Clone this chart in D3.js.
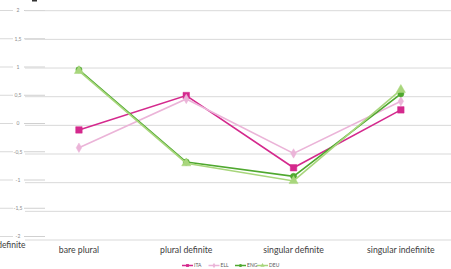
<!DOCTYPE html>
<html><head><meta charset="utf-8">
<script src="https://cdn.jsdelivr.net/npm/d3@7"></script>
<style>html,body{margin:0;padding:0;background:#fff;}svg{display:block;}</style>
</head><body>
<svg id="c" width="451" height="269"></svg>
<script>
const categories = ["bare plural", "plural definite", "singular definite", "singular indefinite"];
const tickValues = [2, 1.5, 1, 0.5, 0, -0.5, -1, -1.5, -2];
const tickLabels = ["2", "1,5", "1", "0,5", "0", "-0,5", "-1", "-1,5", "-2"];
const seriesNames = ["ITA", "ELL", "ENG", "DEU"];
const ITA = [-0.08, 0.52, -0.74, 0.27];
const ELL = [-0.39, 0.46, -0.49, 0.42];
const ENG = [0.97, -0.64, -0.89, 0.55];
const DEU = [0.95, -0.66, -0.97, 0.62];
const colors = ["#D4298D", "#EBB4D8", "#4FA82F", "#A8D67C"];
const shapes = [d3.symbolSquare, d3.symbolDiamond, d3.symbolCircle, d3.symbolTriangle];
const sizes = [42, 26, 30, 36];

const svg = d3.select("#c");
const font = "Lato, 'Open Sans', sans-serif";
const x = d3.scaleBand().domain(categories).range([25.3, 454.5]);
const cx = c => x(c) + x.bandwidth() / 2;
const y = d3.scaleLinear().domain([-2, 2]).range([240, 10.7]);
const yLeft = d3.scaleLinear().domain([-2, 2]).range([236.5, 10.5]);

// left background layer (clipped chart)
const left = svg.append("g");
left.selectAll("line.a").data(tickValues).join("line")
  .attr("x1", 0).attr("x2", 13).attr("y1", d => yLeft(d)).attr("y2", d => yLeft(d))
  .attr("stroke", "#d9d9d9").attr("stroke-width", 1);
left.selectAll("line.b").data(tickValues).join("line")
  .attr("x1", 24).attr("x2", 45).attr("y1", d => yLeft(d)).attr("y2", d => yLeft(d))
  .attr("stroke", "#d0d0d0").attr("stroke-width", 1);
left.selectAll("text").data(tickValues).join("text")
  .attr("x", 18).attr("y", d => yLeft(d) + 1.8)
  .attr("text-anchor", "middle").attr("font-family", font).attr("font-size", 5)
  .attr("fill", "#8a8a8a").text((d, i) => tickLabels[i]);
svg.append("text").attr("x", 25.5).attr("y", 247.5).attr("text-anchor", "end")
  .attr("font-family", font).attr("font-size", 8.5).attr("fill", "#404040").text("definite");
svg.append("rect").attr("x", 32).attr("y", 0).attr("width", 5).attr("height", 1.5).attr("fill", "#333");

// main grid
svg.append("g").selectAll("line").data(tickValues).join("line")
  .attr("x1", 25).attr("x2", 451).attr("y1", d => y(d)).attr("y2", d => y(d))
  .attr("stroke", "#d9d9d9").attr("stroke-width", 1);

// category labels
svg.append("g").selectAll("text").data(categories).join("text")
  .attr("x", d => cx(d)).attr("y", 252.5).attr("text-anchor", "middle")
  .attr("font-family", font).attr("font-size", 8.7).attr("fill", "#404040").text(d => d);

// series
const allSeries = [ITA, ELL, ENG, DEU];
const line = d3.line().x((d, i) => cx(categories[i])).y(d => y(d));
allSeries.forEach((vals, k) => {
  const g = svg.append("g");
  g.append("path").datum(vals).attr("d", line).attr("fill", "none")
    .attr("stroke", colors[k]).attr("stroke-width", 1.6);
  g.selectAll("path.m").data(vals).join("path").attr("class", "m")
    .attr("transform", (d, i) => `translate(${cx(categories[i])},${y(d)})`)
    .attr("d", d3.symbol().type(shapes[k]).size(sizes[k]))
    .attr("fill", colors[k]).attr("stroke", colors[k]).attr("stroke-width", 0.5);
});

// legend
const legX = [182, 208.5, 235, 257];
const leg = svg.append("g");
seriesNames.forEach((n, k) => {
  const gx = legX[k], gy = 265.5;
  leg.append("line").attr("x1", gx).attr("x2", gx + 11).attr("y1", gy).attr("y2", gy)
    .attr("stroke", colors[k]).attr("stroke-width", 1.5);
  leg.append("path").attr("transform", `translate(${gx + 5.5},${gy})`)
    .attr("d", d3.symbol().type(shapes[k]).size(8)).attr("fill", colors[k]);
  leg.append("text").attr("x", gx + 12).attr("y", gy + 1.8).attr("font-family", font)
    .attr("font-size", 5).attr("fill", "#595959").text(n);
});
</script>
</body></html>
